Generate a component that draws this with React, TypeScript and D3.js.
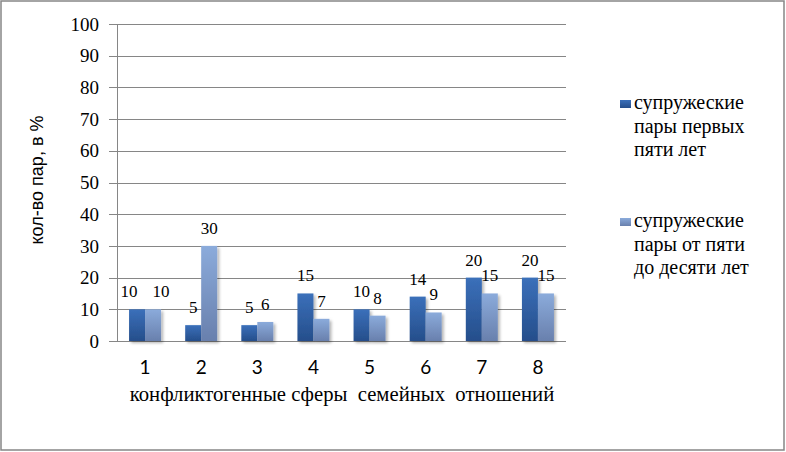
import React from "react";
import * as d3 from "d3";

const categories = ["1", "2", "3", "4", "5", "6", "7", "8"];
const seriesA = [10, 5, 5, 15, 10, 14, 20, 20];
const seriesB = [10, 30, 6, 7, 8, 9, 15, 15];
const yTicks = [0, 10, 20, 30, 40, 50, 60, 70, 80, 90, 100];
const legendA = ["супружеские", "пары первых", "пяти лет"];
const legendB = ["супружеские", "пары от пяти", "до десяти лет"];
const xTitle = "конфликтогенные сферы  семейных  отношений";
const yTitle = "кол-во пар, в %";

export default function App() {
  const W = 786, H = 452;
  const left = 117, right = 566, top = 24, bottom = 341;
  const x = d3.scaleBand().domain(categories).range([left, right]).paddingInner(0.43).paddingOuter(0.215);
  const y = d3.scaleLinear().domain([0, 100]).range([bottom, top]);
  const bw = x.bandwidth() / 2;
  const serif = "'Liberation Serif', 'Times New Roman', serif";
  const series = [
    { vals: seriesA, other: seriesB, fill: "url(#gA)" },
    { vals: seriesB, other: seriesA, fill: "url(#gB)" },
  ];
  return (
    <svg width={W} height={H} style={{ position: "absolute", left: 0, top: 0 }}>
      <defs>
        <linearGradient id="gA" x1="0" y1="0" x2="0" y2="1">
          <stop offset="0" stopColor="#3b70ba" />
          <stop offset="1" stopColor="#254e8b" />
        </linearGradient>
        <linearGradient id="gB" x1="0" y1="0" x2="0" y2="1">
          <stop offset="0" stopColor="#8babdb" />
          <stop offset="1" stopColor="#6980ad" />
        </linearGradient>
        <filter id="sh" x="-30%" y="-10%" width="160%" height="130%">
          <feGaussianBlur in="SourceAlpha" stdDeviation="1.5" />
          <feOffset dx="1.5" dy="1.5" result="b" />
          <feComponentTransfer><feFuncA type="linear" slope="0.3" /></feComponentTransfer>
          <feMerge><feMergeNode /><feMergeNode in="SourceGraphic" /></feMerge>
        </filter>
      </defs>
      <rect x={0} y={0} width={W} height={H} fill="#fff" />
      <rect x={1} y={1} width={W - 3} height={H - 3} fill="none" stroke="#868686" strokeWidth={1.5} />
      {yTicks.map((t) => (
        <g key={t}>
          <line x1={left - 8} x2={right} y1={Math.round(y(t)) + 0.5} y2={Math.round(y(t)) + 0.5} stroke="#868686" strokeWidth={1} />
          <text x={99} y={y(t)} dy="0.35em" textAnchor="end" fontFamily={serif} fontSize={19}>{t}</text>
        </g>
      ))}
      <line x1={left + 0.5} x2={left + 0.5} y1={top} y2={bottom} stroke="#868686" />
      {series.map((s, si) =>
        s.vals.map((v, i) => {
          const bx = (x(categories[i]) as number) + si * bw;
          const clash = s.vals[i] === s.other[i];
          const shift = clash ? (si === 0 ? -bw / 2 : bw / 2) : 0;
          return (
            <g key={`${si}-${i}`}>
              <rect x={bx} y={y(v)} width={bw} height={bottom - y(v)} fill={s.fill} filter="url(#sh)" />
              <text x={bx + bw / 2 + shift} y={y(v) - 12} textAnchor="middle" fontFamily={serif} fontSize={17}>{v}</text>
            </g>
          );
        })
      )}
      {categories.map((c) => (
        <text key={c} x={(x(c) as number) + x.bandwidth() / 2} y={374} textAnchor="middle" fontFamily="Lato, 'Open Sans', sans-serif" fontSize={19}>{c}</text>
      ))}
      <text x={342} y={401} textAnchor="middle" fontFamily={serif} fontSize={20.7} style={{ whiteSpace: "pre" }}>{xTitle}</text>
      <text transform={`translate(43, 180) rotate(-90)`} textAnchor="middle" fontFamily="'Liberation Sans', Arial, sans-serif" fontSize={18}>{yTitle}</text>
      {[{ lines: legendA, fill: "url(#gA)", y0: 109 }, { lines: legendB, fill: "url(#gB)", y0: 227 }].map((lg, li) => (
        <g key={li}>
          <rect x={620} y={lg.y0 - 9} width={11} height={8} fill={lg.fill} />
          {lg.lines.map((l, k) => (
            <text key={k} x={634} y={lg.y0 + k * 23.5} fontFamily={serif} fontSize={20}>{l}</text>
          ))}
        </g>
      ))}
    </svg>
  );
}
